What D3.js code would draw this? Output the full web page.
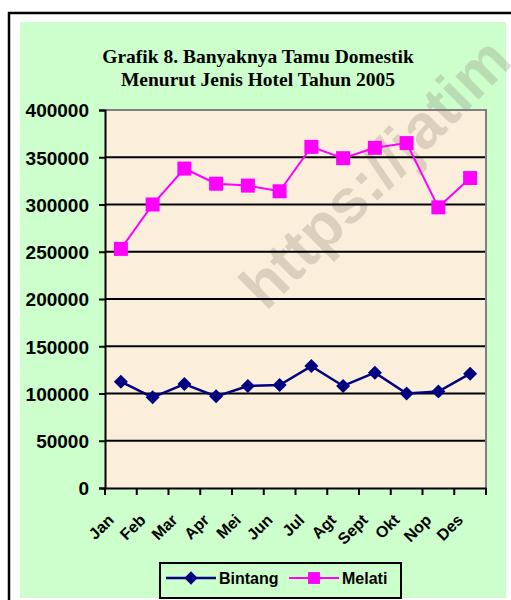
<!DOCTYPE html>
<html>
<head>
<meta charset="utf-8">
<script src="https://cdn.jsdelivr.net/npm/d3@7/dist/d3.min.js"></script>
<style>
  html, body { margin: 0; padding: 0; background: #fff; overflow: hidden; }
  svg { display: block; }
  .lbl { font-family: "Liberation Sans", Arial, sans-serif; font-weight: bold; fill: #000; }
</style>
</head>
<body>
<svg id="chart" width="511" height="600"></svg>
<script>
// data
const months = ["Jan", "Feb", "Mar", "Apr", "Mei", "Jun", "Jul", "Agt", "Sept", "Okt", "Nop", "Des"];
const bintang = [112500, 96000, 110000, 97000, 108000, 109000, 129000, 108000, 122000, 100000, 102000, 121000];
const melati = [253000, 300000, 338000, 322000, 320000, 314000, 361000, 349000, 360000, 365000, 297000, 328000];
const yTicks = [0, 50000, 100000, 150000, 200000, 250000, 300000, 350000, 400000];
const titleLines = ["Grafik 8. Banyaknya Tamu Domestik", "Menurut Jenis Hotel Tahun 2005"];

const series = [
  {name: "Bintang", values: bintang, color: "#000080", shape: "diamond", width: 2.5},
  {name: "Melati", values: melati, color: "#FF00FF", shape: "square", width: 2}
];

const svg = d3.select("#chart");

// frame (only top and left edges are inside the picture) + green chart area
svg.append("path").attr("d", "M9,600V13H511")
  .attr("fill", "none").attr("stroke", "#000").attr("stroke-width", 2.5);
svg.append("rect").attr("x", 20).attr("y", 22).attr("width", 486).attr("height", 576)
  .attr("fill", "#CCFFCC");

// title
svg.append("g").selectAll("text")
  .data(titleLines)
  .enter().append("text")
    .attr("x", 258)
    .attr("y", (d, i) => 63 + i * 23)
    .attr("text-anchor", "middle")
    .style("font-family", '"Liberation Serif", "Times New Roman", serif')
    .style("font-weight", "bold")
    .style("font-size", "19.5px")
    .text(d => d);

const plot = {left: 105, right: 486, top: 110, bottom: 488};

const x = d3.scaleBand().domain(months).range([plot.left, plot.right]).padding(0);
const y = d3.scaleLinear().domain([0, 400000]).range([plot.bottom, plot.top]);

// plot area
svg.append("rect")
  .attr("x", plot.left).attr("y", plot.top)
  .attr("width", plot.right - plot.left).attr("height", plot.bottom - plot.top)
  .attr("fill", "#FBEEDA");

// watermark
svg.append("text")
  .attr("transform", "translate(266,312) rotate(-45)")
  .style("font-family", '"Liberation Sans", Arial, sans-serif')
  .style("font-weight", "bold")
  .style("font-size", "62px")
  .attr("fill", "rgba(140,130,120,0.28)")
  .text("https://jatim");

// gridlines
svg.append("g").selectAll("line")
  .data(yTicks.filter(v => v > 0 && v < 400000))
  .enter().append("line")
    .attr("x1", plot.left).attr("x2", plot.right)
    .attr("y1", d => y(d)).attr("y2", d => y(d))
    .attr("stroke", "#000").attr("stroke-width", 2);

// gray border top/right
svg.append("path")
  .attr("d", `M${plot.left},${y(400000)}H${plot.right}V${plot.bottom}`)
  .attr("fill", "none").attr("stroke", "#808080").attr("stroke-width", 2);

// y axis
const yAxis = svg.append("g")
  .attr("transform", `translate(${plot.left},0)`)
  .call(d3.axisLeft(y).tickValues(yTicks).tickSize(6).tickPadding(10).tickFormat(d3.format("d")));
yAxis.select(".domain").attr("stroke", "#000").attr("stroke-width", 2);
yAxis.selectAll(".tick line").attr("stroke", "#000").attr("stroke-width", 2);
yAxis.selectAll(".tick text")
  .attr("class", "lbl")
  .style("font-size", "19px")
  .attr("dy", "0.36em");

// x axis
const xAxis = svg.append("g")
  .attr("transform", `translate(0,${plot.bottom})`)
  .call(d3.axisBottom(x).tickSize(0).tickPadding(0));
xAxis.select(".domain").attr("stroke", "#000").attr("stroke-width", 2);
xAxis.selectAll(".tick text")
  .attr("class", "lbl")
  .style("font-size", "16px")
  .attr("text-anchor", "end")
  .attr("transform", "translate(-6,33) rotate(-45)")
  .attr("dy", 0)
  .attr("y", 0);

// category boundary ticks
const bounds = months.map(m => x(m)).concat([plot.right]);
xAxis.append("g").selectAll("line")
  .data(bounds)
  .enter().append("line")
    .attr("x1", d => d).attr("x2", d => d)
    .attr("y1", 0).attr("y2", 7)
    .attr("stroke", "#000").attr("stroke-width", 2);

// marker shapes
function markerPath(shape) {
  if (shape === "diamond") return "M0,-7L7,0L0,7L-7,0Z";
  return "M-7,-7H7V7H-7Z";
}

const cx = m => x(m) + x.bandwidth() / 2;

const line = d3.line()
  .x((d, i) => cx(months[i]))
  .y(d => y(d));

series.forEach(s => {
  svg.append("path")
    .datum(s.values)
    .attr("d", line)
    .attr("fill", "none")
    .attr("stroke", s.color)
    .attr("stroke-width", s.width);

  svg.append("g").selectAll("path")
    .data(s.values)
    .enter().append("path")
      .attr("d", markerPath(s.shape))
      .attr("transform", (d, i) => `translate(${cx(months[i])},${y(d)})`)
      .attr("fill", s.color);
});

// legend
const legend = svg.append("g");
legend.append("rect")
  .attr("x", 160).attr("y", 563).attr("width", 241).attr("height", 35)
  .attr("fill", "#CCFFCC").attr("stroke", "#000").attr("stroke-width", 2);

const legendX = [166, 289];
series.forEach((s, i) => {
  const g = legend.append("g").attr("transform", `translate(${legendX[i]},578)`);
  g.append("line").attr("x1", 0).attr("x2", 50).attr("y1", 0).attr("y2", 0)
    .attr("stroke", s.color).attr("stroke-width", s.width);
  g.append("path").attr("d", markerPath(s.shape))
    .attr("transform", `translate(25,0) scale(${s.shape === "diamond" ? 0.95 : 0.85})`)
    .attr("fill", s.color);
  g.append("text").attr("class", "lbl")
    .attr("x", 53).attr("y", 6)
    .style("font-size", "16px")
    .text(s.name);
});
</script>
</body>
</html>
